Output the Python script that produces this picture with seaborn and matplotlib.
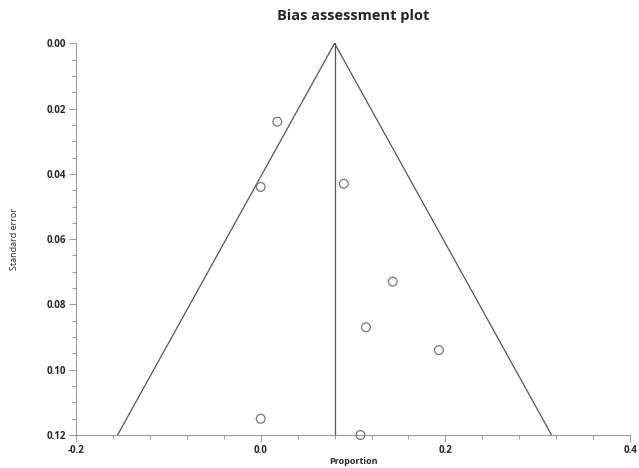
import numpy as np
import pandas as pd
import seaborn as sns
import matplotlib.pyplot as plt
from matplotlib.ticker import MultipleLocator, FormatStrFormatter

# study estimates
proportion = [0.018, 0.000, 0.090, 0.143, 0.114, 0.193, 0.000, 0.108]
std_error = [0.024, 0.044, 0.043, 0.073, 0.087, 0.094, 0.115, 0.120]

# pooled estimate and funnel edges
pooled = [0.080, 0.080]
pooled_se = [0.0, 0.12]
funnel_x = [-0.155, 0.080, 0.315]
funnel_se = [0.12, 0.0, 0.12]

df = pd.DataFrame({'Proportion': proportion, 'Standard error': std_error})

sns.set_style('white')
plt.rcParams['font.family'] = ['Open Sans', 'DejaVu Sans']

fig = plt.figure(figsize=(6.39, 4.68), dpi=100)
ax = fig.add_axes([0.119, 0.0705, 0.867, 0.837])

line_col = '#555555'
sns.lineplot(x=funnel_x, y=funnel_se, sort=False, estimator=None, color=line_col, linewidth=0.9, ax=ax)
sns.lineplot(x=pooled, y=pooled_se, sort=False, estimator=None, color=line_col, linewidth=0.9, ax=ax)
sns.scatterplot(data=df, x='Proportion', y='Standard error', marker='o', s=40,
                facecolor='none', edgecolor='#777777', linewidth=0.9, ax=ax, clip_on=False, zorder=3)

ax.set_xlim(-0.2, 0.4)
ax.set_ylim(0.12, 0.0)
ax.xaxis.set_major_locator(MultipleLocator(0.2))
ax.xaxis.set_minor_locator(MultipleLocator(0.04))
ax.yaxis.set_major_locator(MultipleLocator(0.02))
ax.yaxis.set_minor_locator(MultipleLocator(0.005))
ax.xaxis.set_major_formatter(FormatStrFormatter('%.1f'))
ax.yaxis.set_major_formatter(FormatStrFormatter('%.2f'))

for side in ['top', 'right']:
    ax.spines[side].set_visible(False)
for side in ['left', 'bottom']:
    ax.spines[side].set_color('#999999')
    ax.spines[side].set_linewidth(0.8)

ax.tick_params(which='both', direction='out', color='#999999', width=0.7, left=True, bottom=True)
ax.tick_params(which='major', length=5, pad=2, labelsize=7)
ax.tick_params(which='minor', length=3)
for lab in ax.get_xticklabels() + ax.get_yticklabels():
    lab.set_fontweight('bold')

ax.set_title('Bias assessment plot', fontsize=10.5, fontweight='bold', pad=17)
ax.set_xlabel('Proportion', fontsize=6.5, fontweight='bold', labelpad=1)
ax.set_ylabel('Standard error', fontsize=6.5, labelpad=20)

fig.savefig('out.png', dpi=100)
